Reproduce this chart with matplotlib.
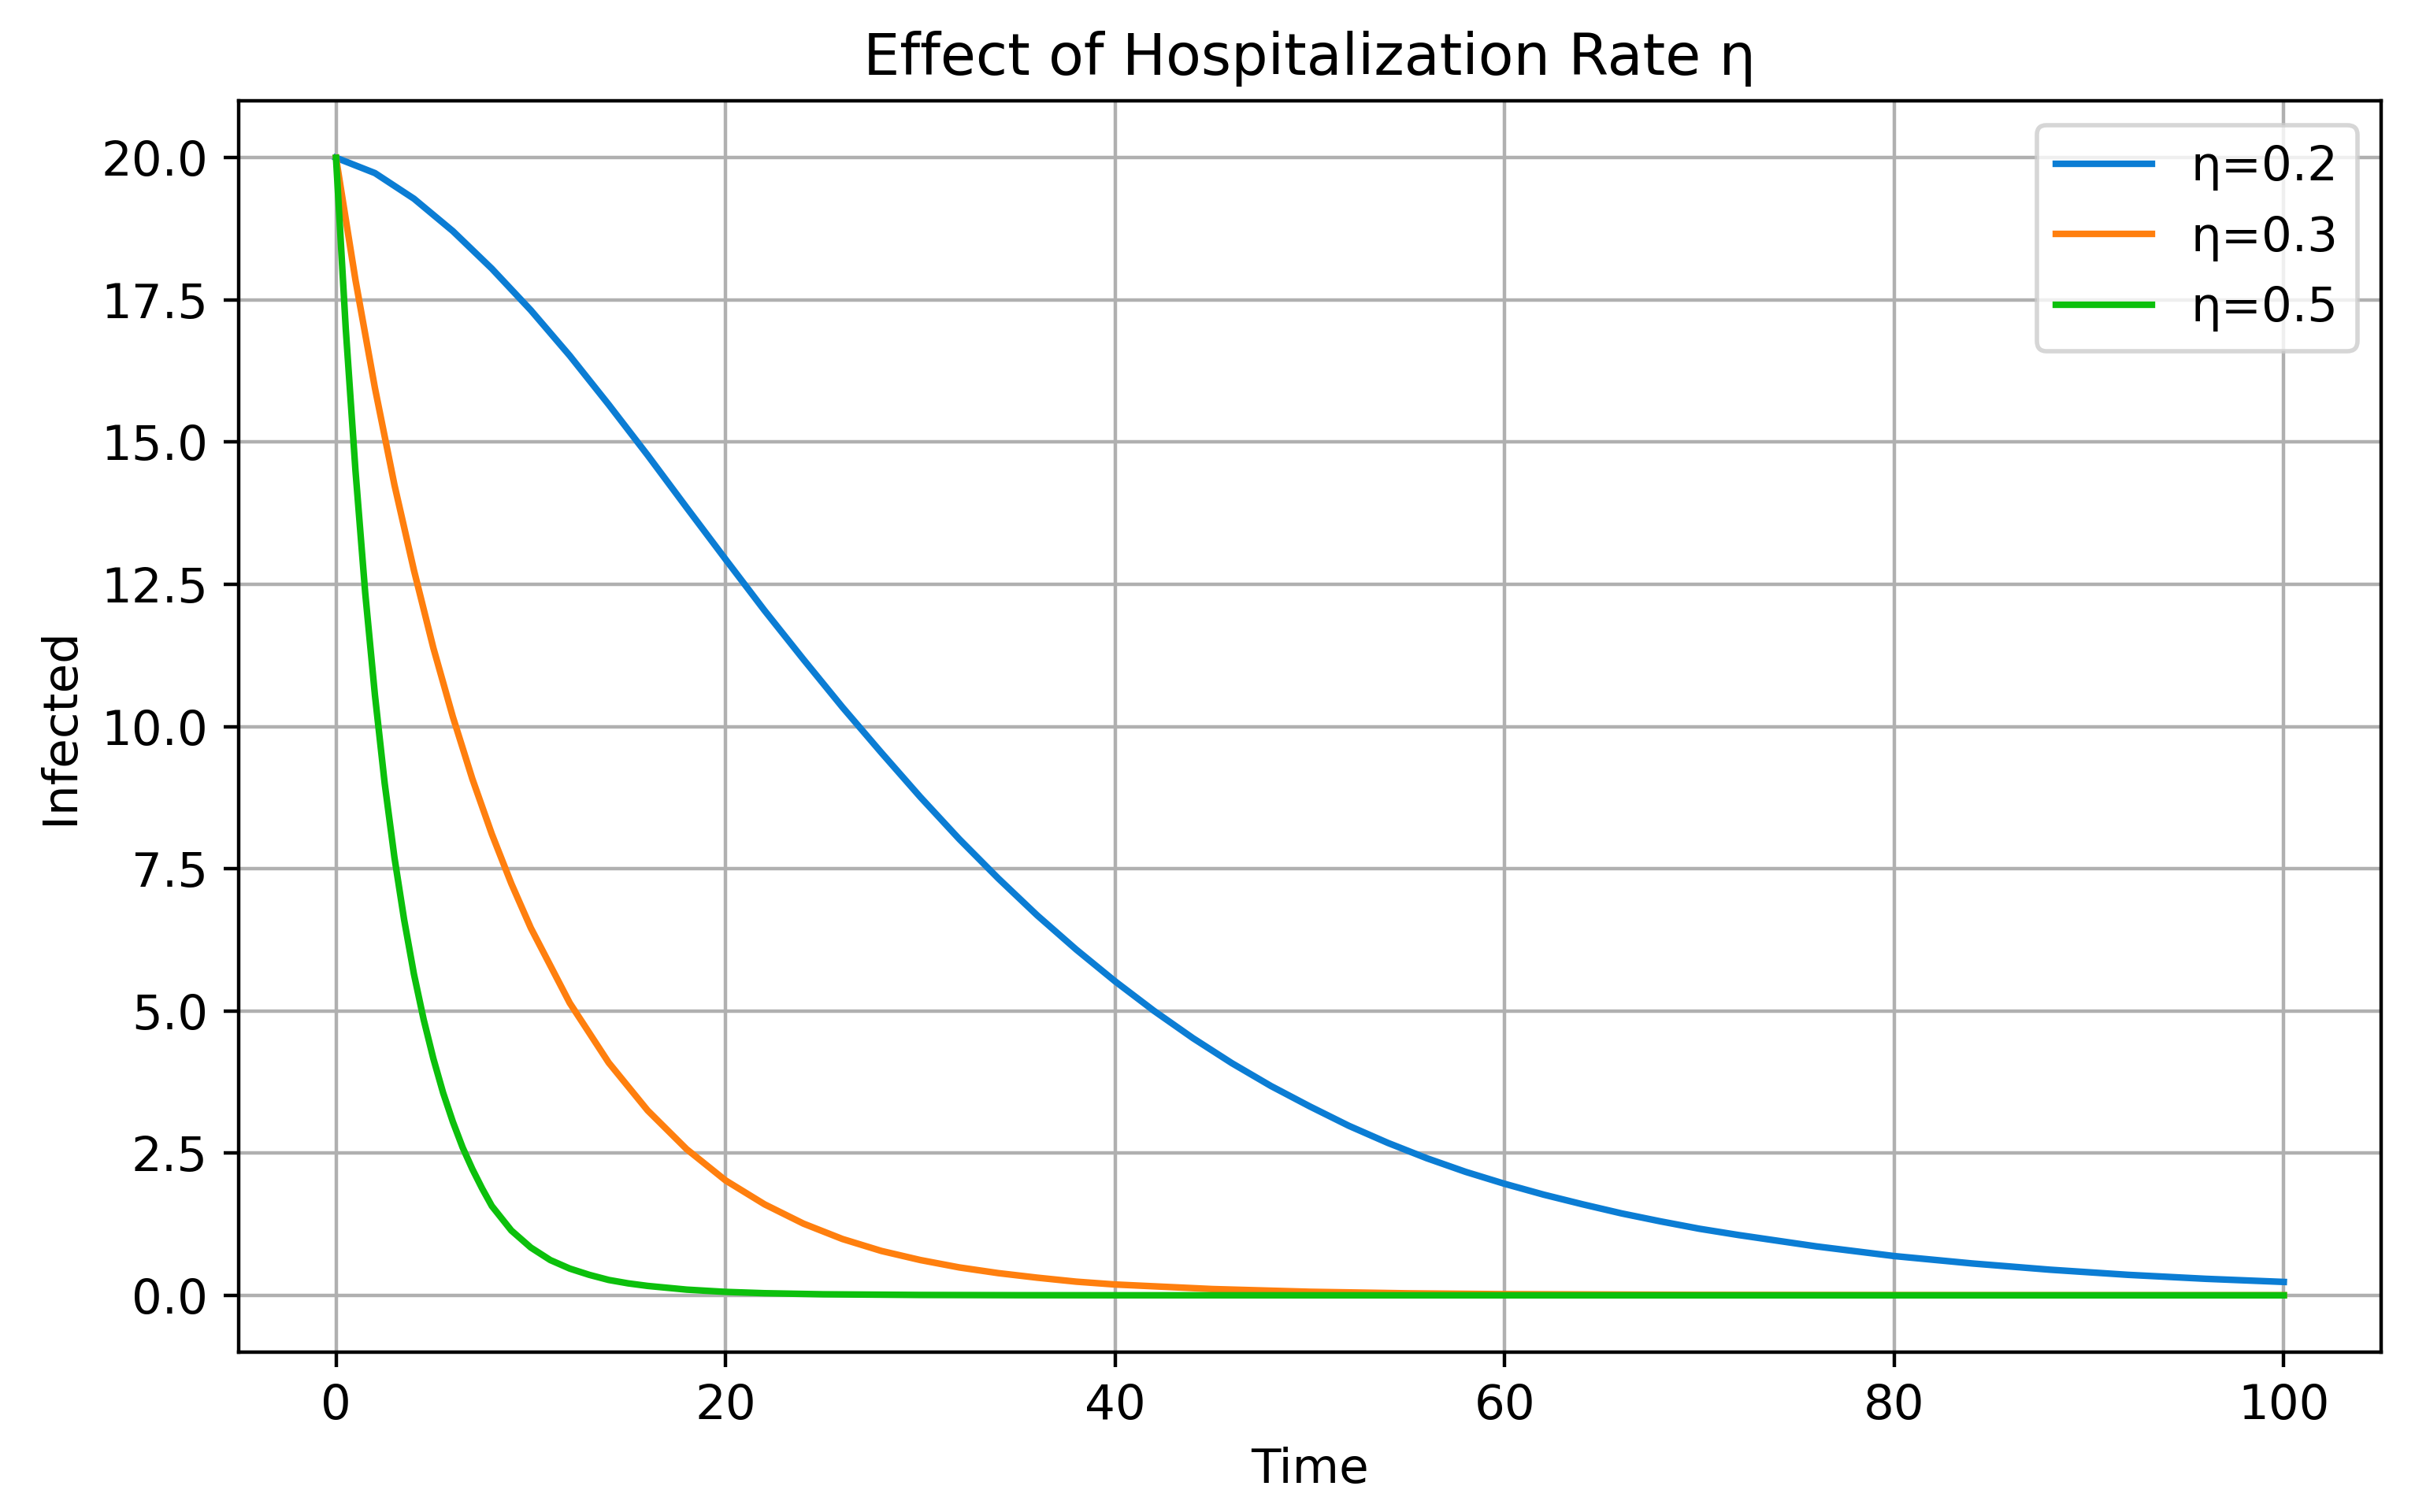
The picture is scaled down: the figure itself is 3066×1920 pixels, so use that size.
import matplotlib
matplotlib.use("Agg")
import matplotlib.pyplot as plt

# values
t_02 = [0, 2, 4, 6, 8, 10, 12, 14, 16, 18, 20, 22, 24, 26, 28, 30, 32, 34, 36, 38,
        40, 42, 44, 46, 48, 50, 52, 54, 56, 58, 60, 62, 64, 66, 68, 70, 72, 74, 76,
        78, 80, 84, 88, 92, 96, 100]
i_02 = [20.0, 19.73, 19.28, 18.71, 18.05, 17.32, 16.52, 15.66, 14.77, 13.85, 12.94,
        12.04, 11.18, 10.34, 9.54, 8.76, 8.02, 7.33, 6.68, 6.08, 5.52, 5.00, 4.52,
        4.08, 3.68, 3.32, 2.98, 2.68, 2.41, 2.17, 1.96, 1.77, 1.60, 1.44, 1.30, 1.17,
        1.06, 0.96, 0.86, 0.775, 0.69, 0.56, 0.45, 0.36, 0.29, 0.235]

t_03 = [0, 1, 2, 3, 4, 5, 6, 7, 8, 9, 10, 12, 14, 16, 18, 20, 22, 24, 26, 28, 30,
        32, 34, 36, 38, 40, 45, 50, 55, 60, 70, 80, 90, 100]
i_03 = [20.0, 17.85, 15.95, 14.25, 12.75, 11.38, 10.17, 9.08, 8.11, 7.24, 6.46,
        5.14, 4.09, 3.25, 2.57, 2.02, 1.60, 1.26, 0.99, 0.78, 0.62, 0.49, 0.39,
        0.31, 0.24, 0.19, 0.11, 0.062, 0.035, 0.02, 0.007, 0.0025, 0.0009, 0.0003]

t_05 = [0, 0.5, 1.0, 1.5, 2.0, 2.5, 3.0, 3.5, 4.0, 4.5, 5.0, 5.5, 6.0, 6.5, 7.0,
        7.5, 8.0, 9.0, 10, 11, 12, 13, 14, 15, 16, 18, 20, 22, 25, 30, 35, 40, 50,
        60, 100]
i_05 = [20.0, 17.0, 14.5, 12.35, 10.55, 9.0, 7.7, 6.6, 5.65, 4.85, 4.16, 3.56,
        3.05, 2.6, 2.22, 1.88, 1.57, 1.14, 0.84, 0.62, 0.47, 0.36, 0.27, 0.21,
        0.165, 0.10, 0.06, 0.037, 0.018, 0.006, 0.002, 0.0007, 0.0001, 0.0, 0.0]

labels = ["η=0.2", "η=0.3", "η=0.5"]
colors = ["#0b7dd4", "#ff7f0e", "#0cc00c"]

plt.rcParams["font.size"] = 11

fig = plt.figure(figsize=(7.665, 4.8), dpi=400)
ax = fig.add_subplot(111)
fig.subplots_adjust(left=0.0988, right=0.986, bottom=0.1057, top=0.9333)

ax.plot(t_02, i_02, color=colors[0], label=labels[0])
ax.plot(t_03, i_03, color=colors[1], label=labels[1])
ax.plot(t_05, i_05, color=colors[2], label=labels[2])

ax.set_title("Effect of Hospitalization Rate η", fontsize=13.2)
ax.set_xlabel("Time")
ax.set_ylabel("Infected")
ax.legend(loc="upper right")
ax.grid(True)

fig.savefig("out.png", dpi=400)
